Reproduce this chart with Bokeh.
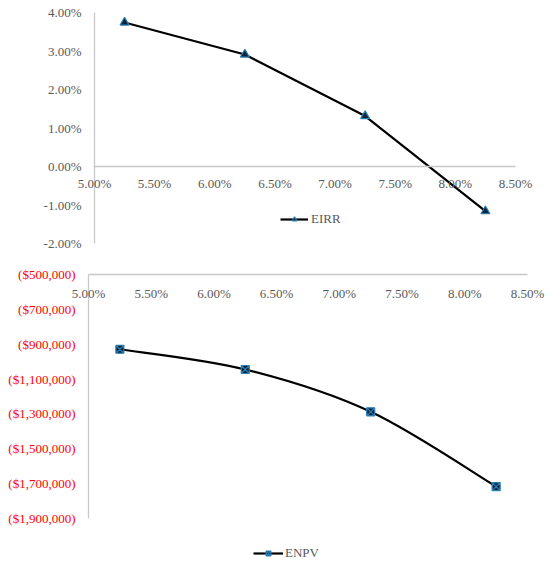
from bokeh.plotting import figure
from bokeh.layouts import column
from bokeh.models import (Range1d, LinearAxis, FixedTicker, Legend, LegendItem,
                          ColumnDataSource, LabelSet)
from bokeh.embed import file_html
from bokeh.resources import INLINE

# ---- data ----
discount_rates = [0.0525, 0.0625, 0.0725, 0.0825]
eirr = [0.0374, 0.0291, 0.0131, -0.0116]
enpv = [-929000, -1045000, -1288000, -1717000]

x_ticks = [0.05, 0.055, 0.06, 0.065, 0.07, 0.075, 0.08, 0.085]
x_tick_labels = ["5.00%", "5.50%", "6.00%", "6.50%", "7.00%", "7.50%", "8.00%", "8.50%"]
eirr_ticks = [-0.02, -0.01, 0.0, 0.01, 0.02, 0.03, 0.04]
eirr_tick_labels = ["-2.00%", "-1.00%", "0.00%", "1.00%", "2.00%", "3.00%", "4.00%"]
enpv_ticks = [-1900000, -1700000, -1500000, -1300000, -1100000, -900000, -700000, -500000]
enpv_tick_labels = ["($1,900,000)", "($1,700,000)", "($1,500,000)", "($1,300,000)",
                    "($1,100,000)", "($900,000)", "($700,000)", "($500,000)"]

FONT = "Liberation Serif"
FS = "13px"
GRAY = "#595959"
AXIS = "#c8c8c8"
MFILL = "#0b2538"
MLINE = "#2a7fb5"

W = 550
H1, H2 = 262, 304


def make_fig(h, xr, yr):
    p = figure(width=W, height=h, output_backend="svg", toolbar_location=None,
               x_range=xr, y_range=yr, x_axis_location=None, y_axis_location=None,
               min_border_left=0, min_border_right=0, min_border_top=0,
               min_border_bottom=0)
    p.outline_line_color = None
    p.xgrid.visible = False
    p.ygrid.visible = False
    p.background_fill_color = None
    return p


def line_axis(fixed, bounds):
    return LinearAxis(fixed_location=fixed, bounds=bounds, ticker=FixedTicker(ticks=[]),
                      major_tick_out=0, major_tick_in=0, minor_tick_out=0,
                      minor_tick_in=0, major_label_standoff=0,
                      axis_line_color=AXIS, axis_line_width=1.3)


def labels(p, xs, ys, texts, color, align, baseline, xo, yo):
    src = ColumnDataSource(dict(x=xs, y=ys, text=texts))
    p.add_layout(LabelSet(x="x", y="y", text="text", source=src, x_offset=xo,
                          y_offset=yo, text_align=align, text_baseline=baseline,
                          text_font=FONT, text_font_size=FS, text_color=color))


# ---- top chart: EIRR ----
# 5.00% -> x 94, 8.50% -> x 515 ; 4.00% -> y 12, -2.00% -> y 243
kx1 = (0.085 - 0.05) / (515 - 94)
ky1 = (0.04 - (-0.02)) / (243 - 12)
p1 = make_fig(H1,
              Range1d(0.05 - 94 * kx1, 0.085 + (W - 515) * kx1),
              Range1d(-0.02 - (H1 - 243) * ky1, 0.04 + 12 * ky1))
p1.add_layout(line_axis(0.05, (-0.02, 0.04)), "left")
p1.add_layout(line_axis(0.0, (0.05, 0.085)), "below")
labels(p1, x_ticks, [0.0] * len(x_ticks), x_tick_labels, GRAY, "center", "top", 0, -9)
labels(p1, [0.05] * len(eirr_ticks), eirr_ticks, eirr_tick_labels, GRAY,
       "right", "middle", -13, 0)

src1 = ColumnDataSource(dict(x=discount_rates, y=eirr))
l1 = p1.line("x", "y", source=src1, line_color="black", line_width=2.2)
m1 = p1.scatter("x", "y", source=src1, marker="triangle", size=9,
                fill_color=MFILL, line_color=MLINE, line_width=1.2)

leg1 = Legend(items=[LegendItem(label="EIRR", renderers=[l1, m1])],
              location=(280, H1 - 227), padding=0, margin=0, spacing=0,
              glyph_width=28, glyph_height=12, label_height=12,
              label_standoff=3, border_line_color=None,
              background_fill_alpha=0,
              label_text_font=FONT, label_text_font_size=FS,
              label_text_color=GRAY)
p1.add_layout(leg1)

# ---- bottom chart: ENPV ----
# 5.00% -> x 88, 8.50% -> x 527 ; -500,000 -> y 12, -1,900,000 -> y 256 (local)
kx2 = (0.085 - 0.05) / (527 - 88)
ky2 = (-500000 - (-1900000)) / (256 - 12)
p2 = make_fig(H2,
              Range1d(0.05 - 88 * kx2, 0.085 + (W - 527) * kx2),
              Range1d(-1900000 - (H2 - 256) * ky2, -500000 + 12 * ky2))
p2.add_layout(line_axis(0.05, (-1900000, -500000)), "left")
p2.add_layout(line_axis(-500000, (0.05, 0.085)), "below")
labels(p2, x_ticks, [-500000] * len(x_ticks), x_tick_labels, GRAY, "center", "top", 0, -11)
labels(p2, [0.05] * len(enpv_ticks), enpv_ticks, enpv_tick_labels, "#ff0000",
       "right", "middle", -13, 0)

# smoothed line (Catmull-Rom style Bezier as in spreadsheet smoothing)
n = len(discount_rates)
x0, y0, x1, y1, cx0, cy0, cx1, cy1 = ([] for _ in range(8))
for i in range(n - 1):
    xp, yp = discount_rates[max(i - 1, 0)], enpv[max(i - 1, 0)]
    xa, ya = discount_rates[i], enpv[i]
    xb, yb = discount_rates[i + 1], enpv[i + 1]
    xn, yn = discount_rates[min(i + 2, n - 1)], enpv[min(i + 2, n - 1)]
    x0.append(xa); y0.append(ya); x1.append(xb); y1.append(yb)
    cx0.append(xa + (xb - xp) / 6); cy0.append(ya + (yb - yp) / 6)
    cx1.append(xb - (xn - xa) / 6); cy1.append(yb - (yn - ya) / 6)
bz = p2.bezier(x0=x0, y0=y0, x1=x1, y1=y1, cx0=cx0, cy0=cy0, cx1=cx1, cy1=cy1,
               line_color="black", line_width=2.2)
src2 = ColumnDataSource(dict(x=discount_rates, y=enpv))
m2 = p2.scatter("x", "y", source=src2, marker="square_x", size=8,
                fill_color=MFILL, line_color=MLINE, line_width=1.2)

leg2 = Legend(items=[LegendItem(label="ENPV", renderers=[bz, m2])],
              location=(253, 5), padding=0, margin=0, spacing=0,
              glyph_width=30, glyph_height=12, label_height=12,
              label_standoff=2, border_line_color=None,
              background_fill_alpha=0,
              label_text_font=FONT, label_text_font_size=FS,
              label_text_color=GRAY)
p2.add_layout(leg2)

layout = column(p1, p2, spacing=0)
open("out.html", "w").write(file_html(layout, INLINE))
